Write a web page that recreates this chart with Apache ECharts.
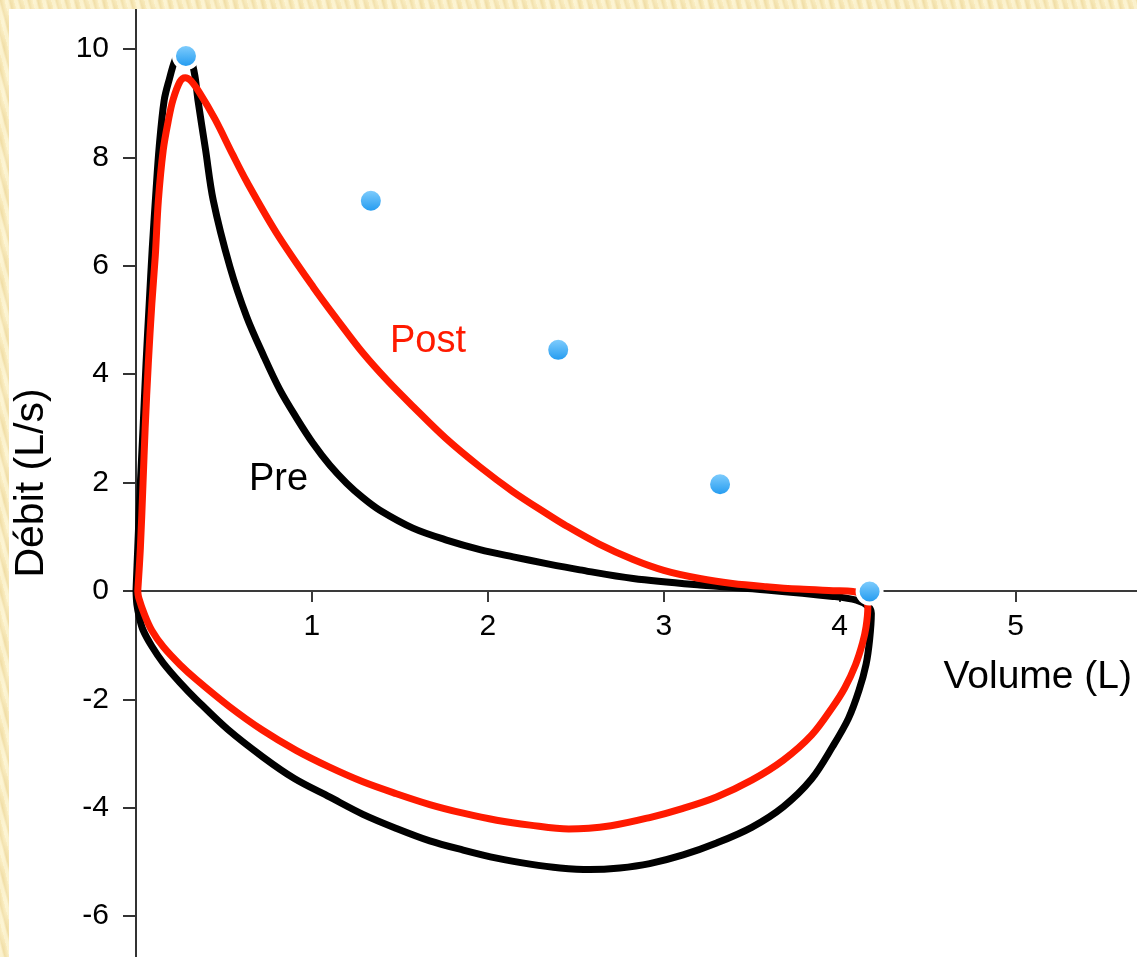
<!DOCTYPE html>
<html>
<head>
<meta charset="utf-8">
<script src="https://cdn.jsdelivr.net/npm/echarts@6/dist/echarts.min.js"></script>
<style>
  html, body { margin: 0; padding: 0; width: 1137px; height: 957px; overflow: hidden; }
  body {
    background-color: #f8eab9;
    background-image:
      repeating-linear-gradient(75deg, rgba(255,250,225,0.55) 0px, rgba(255,250,225,0.55) 3px, rgba(230,205,140,0.35) 5px, rgba(255,245,210,0.3) 9px),
      repeating-linear-gradient(100deg, rgba(240,220,160,0.25) 0px, rgba(255,248,220,0.3) 7px, rgba(235,212,150,0.25) 13px);
  }
  #chart { position: absolute; left: 9px; top: 9px; width: 1128px; height: 948px; background: #ffffff; }
</style>
</head>
<body>
<div id="chart"></div>
<script>
// ---- Data ----
// Pre (black) flow-volume loop: [volume L, flow L/s]
const preLoop = [
  [0, 0], [0.01, 0.8], [0.025, 2.0], [0.04, 3.0], [0.057, 4.2], [0.075, 5.3],
  [0.092, 6.3], [0.112, 7.3], [0.132, 8.2], [0.16, 9.05], [0.19, 9.45],
  [0.22, 9.78], [0.255, 9.98], [0.285, 9.98], [0.31, 9.85], [0.335, 9.5],
  [0.352, 9.06], [0.395, 8.15], [0.439, 7.21], [0.534, 5.98], [0.629, 5.06],
  [0.724, 4.35], [0.818, 3.71], [0.913, 3.19], [1.007, 2.72], [1.102, 2.32],
  [1.197, 1.99], [1.29, 1.72], [1.386, 1.49], [1.574, 1.16], [1.765, 0.94],
  [1.955, 0.765], [2.144, 0.63], [2.333, 0.505], [2.523, 0.39], [2.826, 0.23],
  [3.205, 0.11], [3.583, 0.02], [3.962, -0.10], [4.095, -0.17], [4.16, -0.28],
  [4.18, -0.41], [4.17, -0.90], [4.15, -1.35], [4.11, -1.83], [4.05, -2.35],
  [3.96, -2.87], [3.84, -3.47], [3.68, -3.98], [3.50, -4.36], [3.30, -4.65],
  [3.11, -4.87], [2.92, -5.03], [2.75, -5.11], [2.58, -5.14], [2.41, -5.11],
  [2.24, -5.04], [2.05, -4.93], [1.86, -4.78], [1.67, -4.61], [1.48, -4.38],
  [1.29, -4.12], [1.10, -3.80], [0.90, -3.46], [0.72, -3.06], [0.52, -2.55],
  [0.345, -2.01], [0.25, -1.69], [0.155, -1.33], [0.09, -1.02], [0.04, -0.72],
  [0.02, -0.5], [0.005, -0.25], [0, 0]
];
// Post (red) flow-volume loop
const postLoop = [
  [0.01, 0], [0.025, 0.8], [0.04, 2.0], [0.052, 3.0], [0.07, 4.2], [0.09, 5.3],
  [0.11, 6.2], [0.127, 7.2], [0.155, 8.14], [0.185, 8.7], [0.21, 9.06],
  [0.25, 9.4], [0.28, 9.47], [0.31, 9.42], [0.36, 9.2], [0.45, 8.7],
  [0.55, 8.05], [0.63, 7.55], [0.80, 6.6], [1.007, 5.61], [1.15, 4.98],
  [1.29, 4.39], [1.43, 3.88], [1.576, 3.40], [1.76, 2.82], [1.955, 2.29],
  [2.14, 1.84], [2.333, 1.43], [2.447, 1.20], [2.63, 0.87], [2.826, 0.58],
  [3.00, 0.38], [3.205, 0.23], [3.39, 0.14], [3.583, 0.08], [3.77, 0.035],
  [3.962, 0.006], [4.074, -0.01], [4.14, -0.1], [4.16, -0.3], [4.15, -0.66],
  [4.13, -0.96], [4.09, -1.36], [4.03, -1.78], [3.96, -2.14], [3.84, -2.66],
  [3.68, -3.12], [3.50, -3.49], [3.30, -3.80], [3.11, -4.01], [2.92, -4.18],
  [2.70, -4.33], [2.46, -4.39], [2.24, -4.32], [2.05, -4.23], [1.86, -4.10],
  [1.67, -3.94], [1.48, -3.74], [1.29, -3.52], [1.10, -3.25], [0.91, -2.94],
  [0.72, -2.57], [0.53, -2.13], [0.345, -1.64], [0.25, -1.36], [0.155, -1.03],
  [0.09, -0.73], [0.05, -0.45], [0.015, -0.12], [0.01, 0]
];
// Blue points
const bluePoints = [[0.284, 9.87], [1.335, 7.20], [2.40, 4.45], [3.32, 1.97], [4.17, -0.01]];
// Curve labels
const preLabel = { text: 'Pre', at: [0.81, 2.05] };
const postLabel = { text: 'Post', at: [1.66, 4.61] };
// Axis ticks
const xTickValues = [1, 2, 3, 4, 5];
const yTickValues = [-6, -4, -2, 0, 2, 4, 6, 8, 10];
const xRange = [0, 5.69];
const yRange = [-6.753, 10.738];
const xAxisTitle = 'Volume (L)';
const yAxisTitle = 'Débit (L/s)';

const GRID_H = 948;
// place the x axis on the zero line (through the y scale)
const xAxisOffset = -GRID_H * (0 - yRange[0]) / (yRange[1] - yRange[0]);

const chart = echarts.init(document.getElementById('chart'), null, { renderer: 'canvas' });
const FONT = "'Liberation Sans', Arial, Helvetica, sans-serif";
const axisColor = '#333333';
const SMOOTH = 0.33;

const option = {
  animation: false,
  backgroundColor: '#ffffff',
  grid: { left: 127, right: 0, top: 0, bottom: 0, containLabel: false, outerBoundsMode: 'none' },
  graphic: [{
    type: 'text', right: 5, top: 649, z: 10,
    style: { text: xAxisTitle, fontSize: 39, fontFamily: FONT, fill: '#000' }
  }],
  xAxis: {
    type: 'value', min: xRange[0], max: xRange[1], position: 'bottom', offset: xAxisOffset,
    axisLine: { show: true, onZero: false, lineStyle: { color: '#3a3a3a', width: 2 } },
    axisTick: { show: true, length: 11, customValues: xTickValues, lineStyle: { color: '#3a3a3a', width: 2 } },
    axisLabel: { show: true, customValues: xTickValues, fontSize: 30, color: '#000', margin: 21, fontFamily: FONT },
    splitLine: { show: false }
  },
  yAxis: {
    type: 'value', min: yRange[0], max: yRange[1],
    axisLine: { show: true, onZero: false, lineStyle: { color: axisColor, width: 2 } },
    axisTick: { show: true, length: 13, customValues: yTickValues, lineStyle: { color: axisColor, width: 2 } },
    axisLabel: { show: true, customValues: yTickValues, fontSize: 30, color: '#000', margin: 27, fontFamily: FONT },
    splitLine: { show: false },
    name: yAxisTitle, nameLocation: 'middle', nameGap: 84, nameRotate: 90,
    nameTextStyle: { fontSize: 41, color: '#000', fontFamily: FONT }
  },
  series: [
    {
      name: 'Pre', type: 'line', data: preLoop, smooth: SMOOTH, symbol: 'none',
      lineStyle: { color: '#000000', width: 7, cap: 'round', join: 'round' }, z: 2
    },
    {
      name: 'Post', type: 'line', data: postLoop, smooth: SMOOTH, symbol: 'none',
      lineStyle: { color: '#ff1a00', width: 7, cap: 'round', join: 'round' }, z: 3
    },
    {
      name: 'points', type: 'scatter', data: bluePoints, symbolSize: 24, z: 5,
      itemStyle: {
        color: { type: 'linear', x: 0, y: 0, x2: 0, y2: 1,
          colorStops: [{ offset: 0, color: '#8fd5ff' }, { offset: 1, color: '#1493ee' }] },
        borderColor: '#ffffff', borderWidth: 4, opacity: 1
      }
    },
    {
      name: 'preLabel', type: 'scatter', data: [preLabel.at], symbolSize: 1, z: 6,
      itemStyle: { color: 'rgba(0,0,0,0)' },
      label: { show: true, position: 'inside', formatter: preLabel.text, fontSize: 38, color: '#000000',
               textBorderWidth: 0, opacity: 1, fontFamily: FONT }
    },
    {
      name: 'postLabel', type: 'scatter', data: [postLabel.at], symbolSize: 1, z: 6,
      itemStyle: { color: 'rgba(0,0,0,0)' },
      label: { show: true, position: 'inside', formatter: postLabel.text, fontSize: 38, color: '#ff1a00',
               textBorderWidth: 0, opacity: 1, fontFamily: FONT }
    }
  ]
};
chart.setOption(option);
</script>
</body>
</html>
